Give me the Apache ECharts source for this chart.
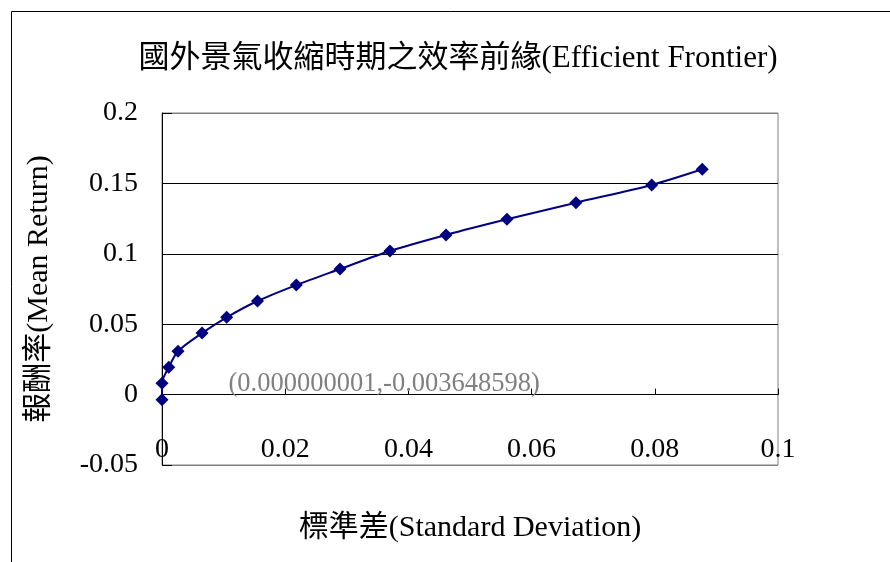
<!DOCTYPE html>
<html>
<head>
<meta charset="utf-8">
<script src="https://cdn.jsdelivr.net/npm/echarts@6/dist/echarts.min.js"></script>
<style>html,body{margin:0;padding:0;background:#fff;}#c{width:890px;height:562px;}</style>
</head>
<body>
<div id="c"></div>
<script>
const titleText = '國外景氣收縮時期之效率前緣(Efficient Frontier)';
const xName = '標準差(Standard Deviation)';
const yName = '報酬率(Mean Return)';
const stdDev = [0.000000001, 0.0000, 0.0011, 0.0026, 0.0065, 0.0105, 0.0155, 0.0218, 0.0289, 0.0370, 0.0461, 0.0560, 0.0672, 0.0795, 0.0877];
const meanReturn = [-0.003648598, 0.0081, 0.0194, 0.0308, 0.0437, 0.0549, 0.0665, 0.0778, 0.0892, 0.1020, 0.1134, 0.1245, 0.1363, 0.1489, 0.1600];
const pointLabel = '(0.000000001,-0.003648598)';

const FONT = "'Liberation Serif','Noto Sans CJK TC',serif";
const chart = echarts.init(document.getElementById('c'), null, {renderer: 'canvas'});

const data = stdDev.map((x, i) => {
  const d = {value: [x, meanReturn[i]]};
  if (i === 0) {
    d.label = {show: true, position: 'right', distance: 5, offset: [55, -16],
      formatter: pointLabel, color: '#808080', fontFamily: FONT, fontSize: 26.5};
  }
  return d;
});

chart.setOption({
  animation: false,
  backgroundColor: '#fff',
  title: {
    text: titleText, left: 453, top: 38, textAlign: 'center',
    textStyle: {fontFamily: FONT, fontSize: 31, fontWeight: 'normal', color: '#000'}
  },
  grid: {left: 162, right: 112, top: 113, bottom: 97, show: true, borderColor: '#808080', borderWidth: 1,
    containLabel: false, outerBoundsMode: 'none'},
  xAxis: {
    type: 'value', min: 0, max: 0.1, interval: 0.02,
    name: xName, nameLocation: 'middle', nameGap: 48,
    nameTextStyle: {fontFamily: FONT, fontSize: 30, color: '#000'},
    axisLine: {onZero: true, lineStyle: {color: '#000', width: 1}},
    axisTick: {show: true, inside: true, length: 6, lineStyle: {color: '#000'}},
    axisLabel: {margin: -29, fontFamily: FONT, fontSize: 28, color: '#000'},
    splitLine: {show: false}
  },
  yAxis: {
    type: 'value', min: -0.05, max: 0.2, interval: 0.05,
    name: yName, nameLocation: 'middle', nameGap: 108, nameRotate: 90,
    nameTextStyle: {fontFamily: FONT, fontSize: 30, color: '#000'},
    axisLine: {show: true, onZero: false, lineStyle: {color: '#000', width: 1}},
    axisTick: {show: true, inside: true, length: 10, lineStyle: {color: '#000'}},
    axisLabel: {margin: 24, fontFamily: FONT, fontSize: 28, color: '#000', padding: [6, 0, 0, 0]},
    splitLine: {show: true, lineStyle: {color: ['#808080', '#000', '#000', '#000', '#000', '#808080'], width: 1}}
  },
  graphic: [
    {type: 'line', shape: {x1: 11.5, y1: 11.5, x2: 890, y2: 11.5}, style: {stroke: '#000', lineWidth: 1}},
    {type: 'line', shape: {x1: 11.5, y1: 11.5, x2: 11.5, y2: 562}, style: {stroke: '#000', lineWidth: 1}}
  ],
  series: [{
    type: 'line', data: data, smooth: 0.3,
    symbol: 'diamond', symbolSize: 13,
    lineStyle: {color: '#000080', width: 2},
    itemStyle: {color: '#000080'}
  }]
});
</script>
</body>
</html>
